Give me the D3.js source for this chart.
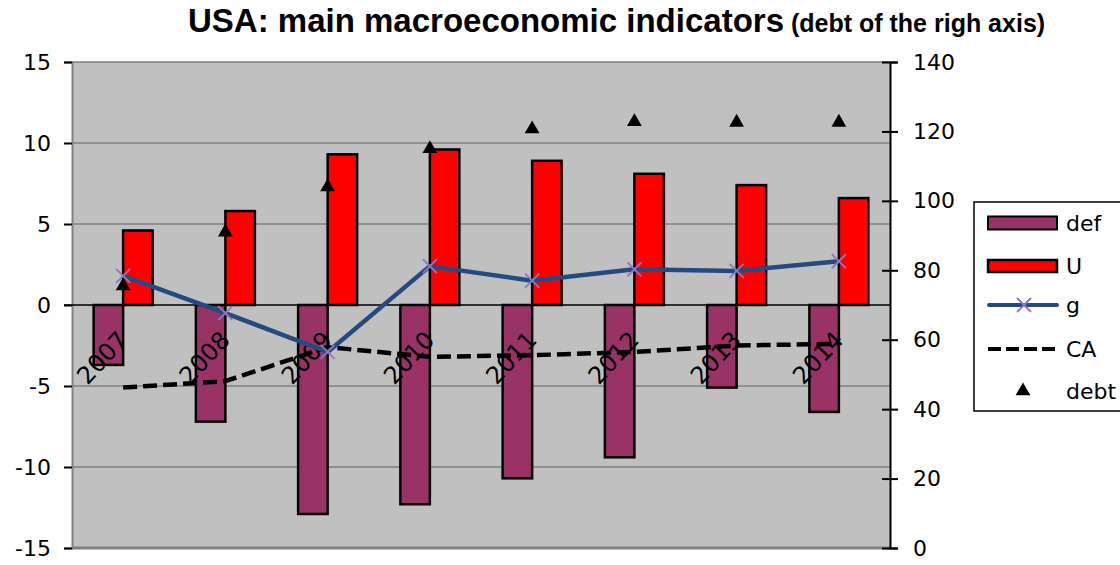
<!DOCTYPE html>
<html><head><meta charset="utf-8">
<script src="https://cdn.jsdelivr.net/npm/d3@7"></script>
<style>body{margin:0;background:#fff;} svg{display:block;}</style>
</head><body>
<svg id="c" width="1120" height="565"></svg>
<script>
const years = ["2007","2008","2009","2010","2011","2012","2013","2014"];
const def = [-3.7, -7.2, -12.9, -12.3, -10.7, -9.4, -5.1, -6.6];
const U = [4.6, 5.8, 9.3, 9.6, 8.9, 8.1, 7.4, 6.6];
const g = [1.8, -0.5, -2.9, 2.4, 1.5, 2.2, 2.1, 2.7];
const CA = [-5.1, -4.7, -2.6, -3.2, -3.1, -2.9, -2.5, -2.4];
const debt = [75.5, 91, 104, 115, 120.7, 122.8, 122.6, 122.6];
const leftTicks = [-15, -10, -5, 0, 5, 10, 15];
const rightTicks = [0, 20, 40, 60, 80, 100, 120, 140];
const seriesNames = ["def", "U", "g", "CA", "debt"];
const titleMain = "USA: main macroeconomic indicators";
const titleSub = " (debt of the righ axis)";

const colors = {def:"#993366", U:"#ff0000", g:"#254a80", gMarker:"#8e78bd", CA:"#000000", debt:"#000000"};
const svg = d3.select("#c");
const L = 72, R = 890, T = 62, B = 548;
const x = d3.scaleBand().domain(years).range([L, R]).padding(0);
const xs = d3.scaleBand().domain(["def","U"]).range([0, x.bandwidth()]).paddingOuter(0.733).paddingInner(0);
const y = d3.scaleLinear().domain([-15, 15]).range([B, T]);
const y2 = d3.scaleLinear().domain([0, 140]).range([B, T]);
const cx = d => x(d) + x.bandwidth() / 2;

// title
const t = svg.append("text").attr("x", 188).attr("y", 32)
  .attr("font-family", "'Liberation Sans', Arial, sans-serif").attr("font-weight", "bold").attr("fill", "#000");
t.append("tspan").attr("font-size", 33).text(titleMain);
t.append("tspan").attr("font-size", 25).text(titleSub);

// plot area
svg.append("rect").attr("x", L).attr("y", T).attr("width", R - L).attr("height", B - T).attr("fill", "#c0c0c0");
svg.append("g").selectAll("line").data(leftTicks.filter(v => v !== 0 && v !== -15)).join("line")
  .attr("x1", L).attr("x2", R).attr("y1", d => y(d)).attr("y2", d => y(d))
  .attr("stroke", "#808080").attr("stroke-width", 1.5);
svg.append("line").attr("x1", L).attr("x2", R).attr("y1", B).attr("y2", B).attr("stroke", "#808080").attr("stroke-width", 3);

// bars
const rows = years.map((yr, i) => ({yr, def: def[i], U: U[i], g: g[i], CA: CA[i], debt: debt[i]}));
const barG = svg.append("g");
["def", "U"].forEach(k => {
  barG.selectAll("rect." + k).data(rows).join("rect").attr("class", k)
    .attr("x", d => x(d.yr) + xs(k)).attr("width", xs.bandwidth())
    .attr("y", d => Math.min(y(0), y(d[k]))).attr("height", d => Math.abs(y(d[k]) - y(0)))
    .attr("fill", colors[k]).attr("stroke", "#000").attr("stroke-width", 2.5);
});

// left axis
const la = svg.append("g").attr("transform", `translate(${L},0)`)
  .call(d3.axisLeft(y).tickValues(leftTicks).tickSize(8).tickPadding(13).tickFormat(d => d));
la.select(".domain").attr("stroke", "#808080").attr("stroke-width", 2);
la.selectAll(".tick line").attr("stroke", "#000").attr("stroke-width", 2);
la.selectAll(".tick text").attr("font-family", "'DejaVu Sans', sans-serif").attr("font-size", 22).attr("fill", "#000");

// zero line (category axis) with labels
const xa = svg.append("g").attr("transform", `translate(0,${y(0)})`)
  .call(d3.axisBottom(x).tickSize(0));
xa.select(".domain").remove();
xa.selectAll(".tick text").attr("x", 0).attr("y", 0).attr("dy", 0)
  .attr("transform", "translate(6,36) rotate(-47)").attr("text-anchor", "end")
  .attr("font-family", "'DejaVu Sans', sans-serif").attr("font-size", 24).attr("fill", "#000");
svg.append("line").attr("x1", L - 8).attr("x2", R).attr("y1", y(0)).attr("y2", y(0)).attr("stroke", "#000").attr("stroke-width", 1.5);

// right axis
const ra = svg.append("g").attr("transform", `translate(${R},0)`)
  .call(d3.axisRight(y2).tickValues(rightTicks).tickSize(8).tickPadding(15));
ra.select(".domain").attr("stroke", "#000").attr("stroke-width", 2);
ra.selectAll(".tick line").attr("x1", -8).attr("stroke", "#000").attr("stroke-width", 2);
ra.selectAll(".tick text").attr("font-family", "'DejaVu Sans', sans-serif").attr("font-size", 22).attr("fill", "#000");

// CA line
svg.append("path").datum(rows)
  .attr("d", d3.line().x(d => cx(d.yr)).y(d => y(d.CA)))
  .attr("fill", "none").attr("stroke", colors.CA).attr("stroke-width", 4.5).attr("stroke-dasharray", "14,6");

// g line
svg.append("path").datum(rows)
  .attr("d", d3.line().x(d => cx(d.yr)).y(d => y(d.g)))
  .attr("fill", "none").attr("stroke", colors.g).attr("stroke-width", 4.5).attr("stroke-linejoin", "round");

// debt triangles
const tri = d3.symbol(d3.symbolTriangle).size(95);
svg.append("g").selectAll("path").data(rows).join("path")
  .attr("transform", d => `translate(${cx(d.yr)},${y2(d.debt)})`).attr("d", tri).attr("fill", colors.debt);

// g markers
const xMark = (gsel, px, py) => {
  gsel.append("path").attr("d", `M${px-7},${py-7}L${px+7},${py+7}M${px-7},${py+7}L${px+7},${py-7}`)
    .attr("stroke", colors.gMarker).attr("stroke-width", 1.8).attr("fill", "none");
};
const mg = svg.append("g");
rows.forEach(d => xMark(mg, cx(d.yr), y(d.g)));

// legend
const lg = svg.append("g");
lg.append("rect").attr("x", 974).attr("y", 202).attr("width", 170).attr("height", 209)
  .attr("fill", "#fff").attr("stroke", "#000").attr("stroke-width", 1.5);
const ly = [223, 266, 305, 349, 391];
lg.append("rect").attr("x", 988).attr("y", ly[0] - 6.5).attr("width", 69).attr("height", 13)
  .attr("fill", colors.def).attr("stroke", "#000").attr("stroke-width", 2);
lg.append("rect").attr("x", 988).attr("y", ly[1] - 6).attr("width", 69).attr("height", 12)
  .attr("fill", colors.U).attr("stroke", "#000").attr("stroke-width", 2.5);
lg.append("line").attr("x1", 989).attr("x2", 1057).attr("y1", ly[2]).attr("y2", ly[2])
  .attr("stroke", colors.g).attr("stroke-width", 4).attr("stroke-linecap", "round");
xMark(lg, 1024, ly[2]);
lg.append("line").attr("x1", 988).attr("x2", 1058).attr("y1", ly[3]).attr("y2", ly[3])
  .attr("stroke", colors.CA).attr("stroke-width", 4).attr("stroke-dasharray", "13,5");
lg.append("path").attr("transform", `translate(1023,${ly[4]})`).attr("d", tri).attr("fill", colors.debt);
lg.selectAll("text").data(seriesNames).join("text")
  .attr("x", 1066).attr("y", (d, i) => ly[i] + 8).text(d => d)
  .attr("font-family", "'DejaVu Sans', sans-serif").attr("font-size", 22).attr("fill", "#000");
</script>
</body></html>
